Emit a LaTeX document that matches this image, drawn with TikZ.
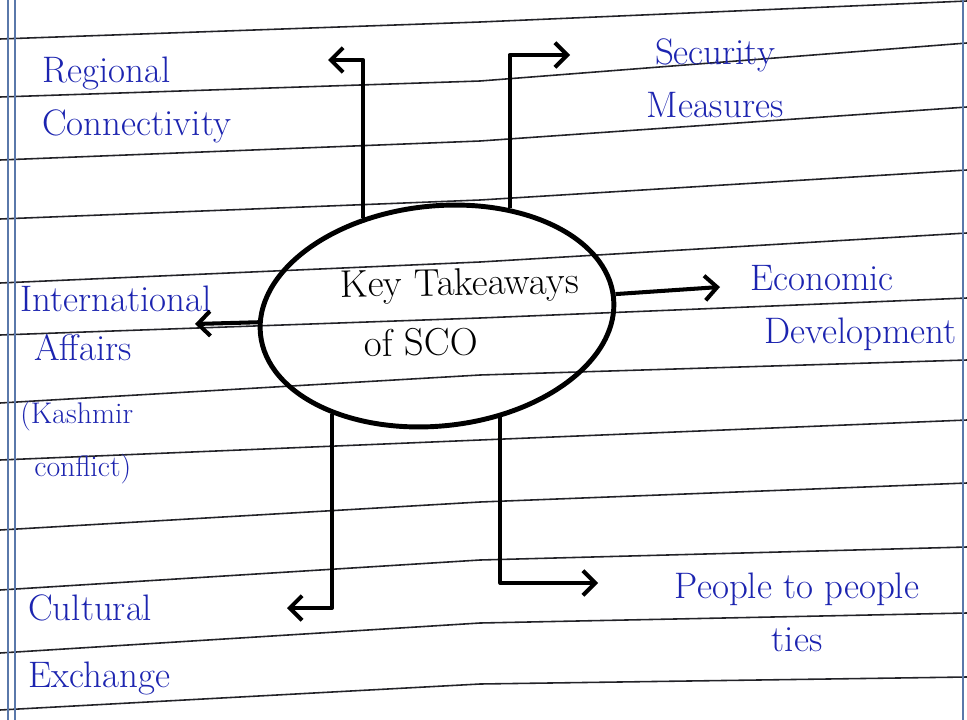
\documentclass[tikz,border=0pt]{standalone}
\usepackage{xcolor}
\usepackage{tikz}
\usetikzlibrary{shapes.geometric,arrows.meta}
\definecolor{ink}{RGB}{28,36,176}
\definecolor{rulegray}{RGB}{35,35,40}
\definecolor{marginblue}{RGB}{90,120,170}

\begin{document}
\begin{tikzpicture}[x=0.02cm, y=0.02cm,
    ruled/.style={rulegray, line width=0.9pt},
    hub/.style={ellipse, draw, line width=2.8pt, minimum width=7.1cm, minimum height=4.4cm,
        rotate=6, inner sep=0pt},
    lbl/.style={ink, align=left, inner sep=0pt, font=\fontsize{21}{30}\selectfont},
    arr/.style={line width=2.3pt, -{Straight Barb[length=7pt,width=14pt]}, line join=round}]
    \useasboundingbox (0,0) rectangle (967,-720);
    \fill[white] (0,0) rectangle (967,-720);
    \foreach \l/\m/\r in {39/22/1, 97/81/43, 160/141/107, 219/200/170, 283/262/233, 335/318/298,
        403/375/360, 460/440/420, 530/502/483, 590/560/547, 653/623/613, 710/684/677}
        \draw[ruled] (0,-\l) -- (480,-\m) -- (967,-\r);
    \draw[marginblue, line width=1pt] (8,0) -- (8,-720);
    \draw[marginblue, line width=1pt] (15,0) -- (15,-720);
    \draw[marginblue, line width=1.2pt] (963,0) -- (963,-720);

    \node[hub] (sco) at (437,-316) {};
    \node[align=left, rotate=1, font=\fontsize{22}{34}\selectfont] (title) at (460,-312)
        {Key Takeaways\\\hspace*{0.6em}of SCO};

    \node[lbl, anchor=west] (rc) at (42,-100) {Regional\\Connectivity};
    \node[lbl, align=center] (sm) at (715,-78) {Security\\Measures};
    \node[lbl, anchor=west] (ed) at (750,-308) {Economic\\\hspace*{8pt}Development};
    \node[lbl, anchor=west] (ia) at (20,-385) {International\\[-2pt]\hspace*{8pt}Affairs\\[6pt]
        \fontsize{17}{20}\selectfont(Kashmir\\\fontsize{17}{20}\selectfont\hspace*{8pt}conflict)};
    \node[lbl, anchor=west] (cx) at (28,-645) {Cultural\\[8pt]Exchange};
    \node[lbl, align=center] (pp) at (797,-612) {People to people\\ties};

    \coordinate (rc tip) at (328,-60);
    \coordinate (sm tip) at (570,-55);
    \coordinate (ed tip) at (720,-287);
    \coordinate (ia tip) at (195,-324);
    \coordinate (cx tip) at (287,-608);
    \coordinate (pp tip) at (598,-583);

    \draw[arr] (sco.121) |- (rc tip);
    \draw[arr] (sco.50) |- (sm tip);
    \draw[arr] (sco.1) -- (ed tip);
    \draw[arr] (sco.176) -- (ia tip);
    \draw[arr] (sco.217) |- (cx tip);
    \draw[arr] (sco.296) |- (pp tip);
\end{tikzpicture}
\end{document}
